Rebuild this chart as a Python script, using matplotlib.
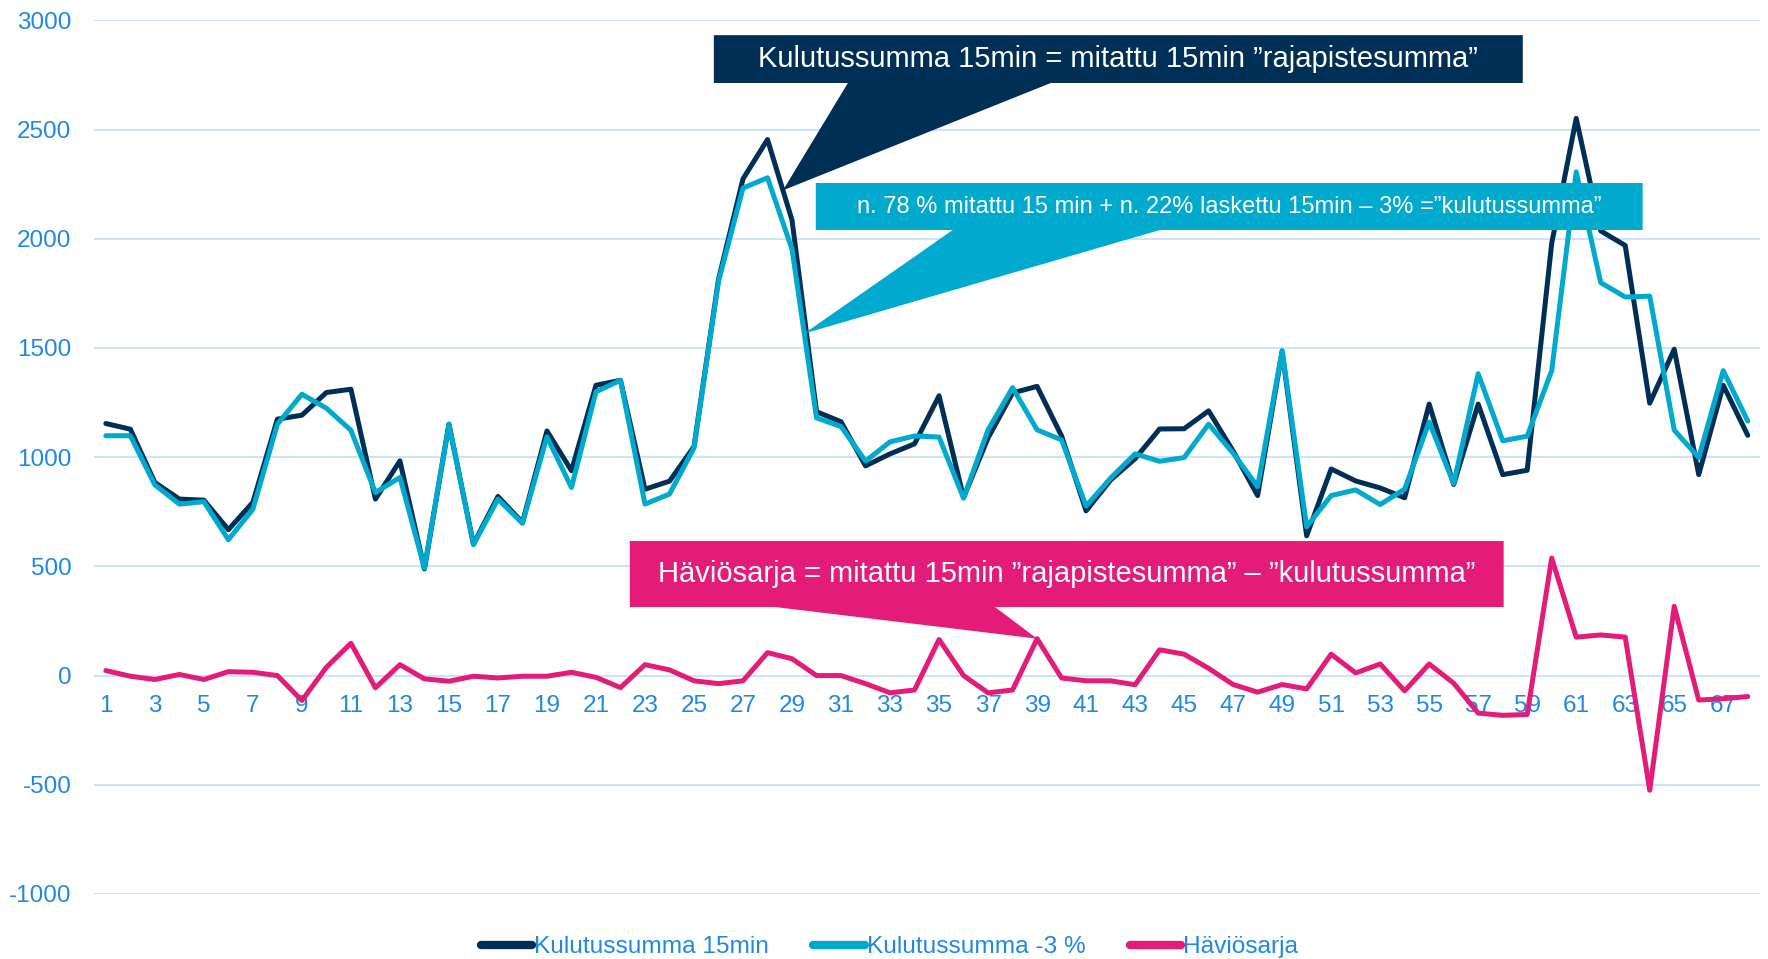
import numpy as np
import matplotlib
matplotlib.use("Agg")
import matplotlib.pyplot as plt
from matplotlib.patches import Polygon

plt.rcParams['font.family'] = ['Liberation Sans', 'DejaVu Sans']
plt.rcParams['axes.unicode_minus'] = False

# data
jaksot = list(range(1, 69))
kulutus_15min = [1154, 1128, 884, 808, 803, 668, 793, 1174, 1192, 1296,
                 1311, 808, 983, 488, 1151, 602, 820, 701, 1120, 938,
                 1329, 1352, 853, 890, 1048, 1814, 2274, 2454, 2085, 1208,
                 1162, 960, 1015, 1061, 1281, 815, 1088, 1294, 1324, 1097,
                 754, 895, 993, 1129, 1130, 1212, 1028, 824, 1484, 640,
                 946, 891, 859, 814, 1243, 875, 1243, 920, 940, 1979,
                 2551, 2036, 1969, 1247, 1494, 920, 1329, 1100]
kulutus_3 = [1098, 1098, 873, 785, 796, 622, 762, 1151, 1288, 1224,
             1123, 838, 907, 492, 1151, 599, 808, 697, 1093, 861,
             1299, 1352, 785, 831, 1042, 1805, 2232, 2279, 1952, 1180,
             1140, 982, 1070, 1097, 1092, 812, 1125, 1318, 1125, 1079,
             776, 904, 1015, 981, 998, 1151, 1018, 865, 1488, 681,
             824, 850, 783, 854, 1161, 879, 1382, 1075, 1096, 1396,
             2306, 1799, 1733, 1737, 1124, 998, 1396, 1165]
haviosarja = [23, -3, -18, 5, -18, 18, 15, 0, -114, 38,
              148, -56, 50, -15, -26, -3, -11, -3, -3, 15,
              -8, -55, 50, 26, -24, -37, -24, 105, 77, 0,
              0, -37, -79, -66, 165, 0, -79, -66, 169, -11,
              -24, -24, -42, 118, 98, 33, -41, -76, -41, -61,
              98, 12, 53, -70, 53, -35, -172, -182, -178, 538,
              176, 186, 176, -525, 317, -112, -106, -96]
sarjat = ["Kulutussumma 15min", "Kulutussumma -3 %", "Häviösarja"]

navy = "#002f56"
cyan = "#00a9ce"
pink = "#e31c79"
blue_txt = "#1f88e5"
grid_c = "#cbe4fa"

fig = plt.figure(figsize=(17.68, 9.59), dpi=100)
ax = fig.add_axes([93.6 / 1768, 65 / 959, (1760 - 93.6) / 1768, (894 - 20.3) / 959])

l1, = ax.plot(jaksot, kulutus_15min, color=navy, lw=3.6, zorder=3, solid_capstyle='round')
l2, = ax.plot(jaksot, kulutus_3, color=cyan, lw=3.6, zorder=3.1, solid_capstyle='round')
l3, = ax.plot(jaksot, haviosarja, color=pink, lw=3.6, zorder=3.2, solid_capstyle='round')

ax.set_xlim(0.5, 68.5)
ax.set_ylim(-1000, 3000)
ax.set_yticks(range(-1000, 3001, 500))
ax.set_yticklabels([str(v) for v in range(-1000, 3001, 500)])
ax.set_xticks(jaksot[::2])
ax.set_xticklabels([str(v) for v in jaksot[::2]])
ax.grid(axis='y', color=grid_c, lw=1.5)
ax.set_axisbelow(True)
for s in ax.spines.values():
    s.set_visible(False)
ax.spines['bottom'].set_position(('data', 0))
ax.tick_params(axis='x', length=0, pad=14, labelsize=17.5, labelcolor=blue_txt)
ax.tick_params(axis='y', length=0, pad=16, labelsize=17.5, labelcolor=blue_txt)


def callout(x0, x1, y0, y1, b0, b1, tip, color, text, fs):
    pts = [(x0, y1), (x1, y1), (x1, y0), (b1, y0), tip, (b0, y0), (x0, y0)]
    ax.add_patch(Polygon(pts, closed=True, facecolor=color, edgecolor='none', zorder=5))
    ax.text((x0 + x1) / 2, (y0 + y1) / 2, text, color='white', fontsize=fs,
            ha='center', va='center', zorder=6)


# tips attached to the lines
tip1 = (28.63, np.interp(28.63, jaksot, kulutus_15min))
tip2 = (29.5, np.interp(29.5, jaksot, kulutus_3))
tip3 = (39, haviosarja[38])

callout(25.81, 58.82, 2713, 2932, 31.28, 39.56, tip1, navy,
        "Kulutussumma 15min = mitattu 15min \u201drajapistesumma\u201d", 21)
callout(29.97, 63.71, 2040, 2255, 35.56, 44.01, tip2, cyan,
        "n. 78 % mitattu 15 min + n. 22% laskettu 15min \u2013 3% =\u201dkulutussumma\u201d", 17)
callout(22.38, 58.04, 314, 616, 28.30, 37.28, tip3, pink,
        "Häviösarja = mitattu 15min \u201drajapistesumma\u201d \u2013 \u201dkulutussumma\u201d", 21)

leg = fig.legend([l1, l2, l3], sarjat, loc='center', bbox_to_anchor=(889.5 / 1768, 12 / 959),
                 ncol=3, frameon=False, fontsize=17.6, handlelength=2.1, handletextpad=0.1,
                 columnspacing=1.8, labelcolor=blue_txt)
for h in leg.get_lines():
    h.set_linewidth(6)

fig.savefig("out.png", dpi=100)
